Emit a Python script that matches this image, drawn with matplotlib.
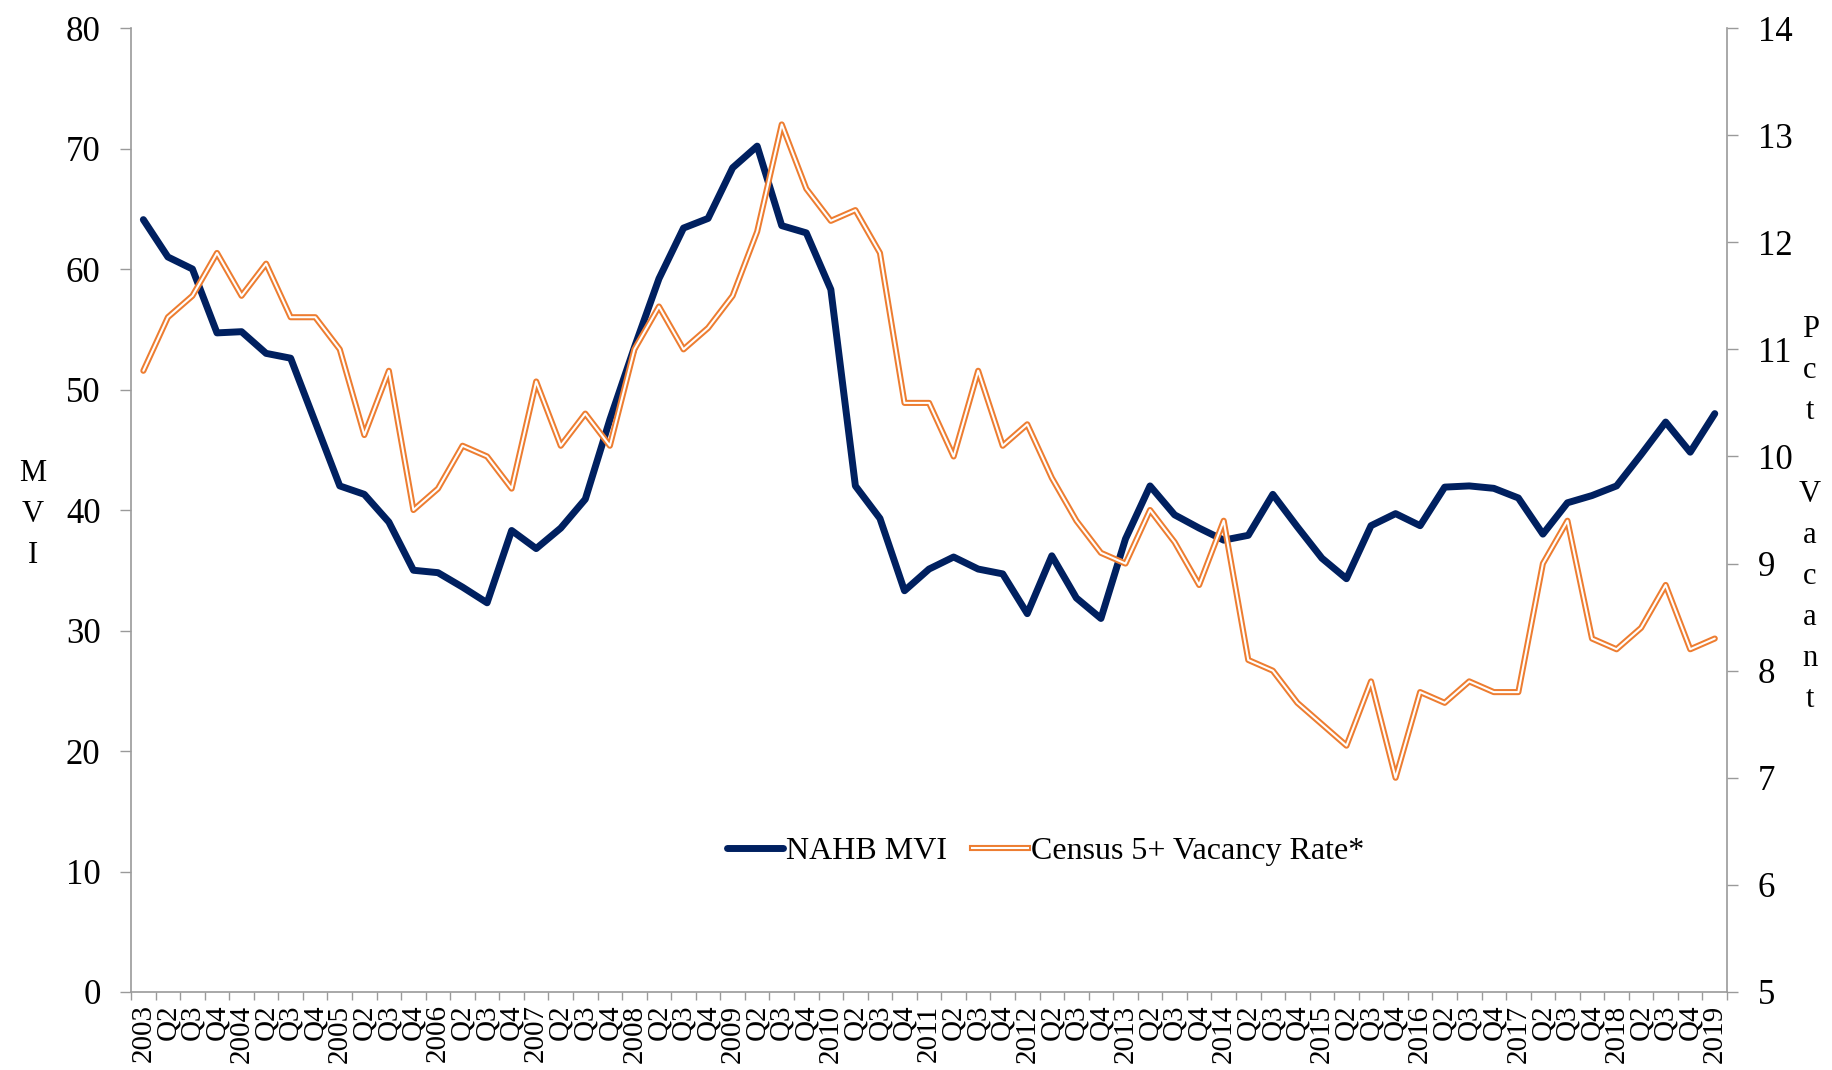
import numpy as np
import matplotlib
matplotlib.use('Agg')
import matplotlib.pyplot as plt
from matplotlib.lines import Line2D
from matplotlib.legend_handler import HandlerTuple

plt.rcParams['font.family'] = ['Liberation Serif', 'DejaVu Serif']

years = list(range(2003, 2020))
quarters = []
for y in years:
    quarters += [str(y), 'Q2', 'Q3', 'Q4']
quarters = quarters[:65]  # 2003 Q1 .. 2019 Q1

# NAHB Multifamily Vacancy Index
mvi = [64.1, 61.0, 60.0, 54.7, 54.8, 53.0, 52.6, 47.3,
       42.0, 41.3, 39.0, 35.0, 34.8, 33.6, 32.3, 38.3,
       36.8, 38.5, 40.9, 47.5, 53.5, 59.2, 63.4, 64.2,
       68.4, 70.2, 63.6, 63.0, 58.3, 42.0, 39.3, 33.3,
       35.1, 36.1, 35.1, 34.7, 31.4, 36.2, 32.7, 31.0,
       37.6, 42.0, 39.6, 38.5, 37.5, 37.9, 41.3, 38.6,
       36.0, 34.3, 38.7, 39.7, 38.7, 41.9, 42.0, 41.8,
       41.0, 38.0, 40.6, 41.2, 42.0, 44.6, 47.3, 44.8,
       48.0]

# Census 5+ units rental vacancy rate (pct)
vacancy = [10.8, 11.3, 11.5, 11.9, 11.5, 11.8, 11.3, 11.3,
           11.0, 10.2, 10.8, 9.5, 9.7, 10.1, 10.0, 9.7,
           10.7, 10.1, 10.4, 10.1, 11.0, 11.4, 11.0, 11.2,
           11.5, 12.1, 13.1, 12.5, 12.2, 12.3, 11.9, 10.5,
           10.5, 10.0, 10.8, 10.1, 10.3, 9.8, 9.4, 9.1,
           9.0, 9.5, 9.2, 8.8, 9.4, 8.1, 8.0, 7.7,
           7.5, 7.3, 7.9, 7.0, 7.8, 7.7, 7.9, 7.8,
           7.8, 9.0, 9.4, 8.3, 8.2, 8.4, 8.8, 8.2,
           8.3]

navy = '#002060'
orange = '#ED7D31'
grey = '#9A9A9A'

fig = plt.figure(figsize=(18.33, 10.70), dpi=100)
ax = fig.add_axes([0.0715, 0.0729, 0.8707, 0.9009])
ax2 = ax.twinx()

x = np.arange(len(quarters))
ax.plot(x, mvi, color=navy, lw=5, solid_capstyle='round', solid_joinstyle='round')
ax2.plot(x, vacancy, color=orange, lw=4.4, solid_joinstyle='round', solid_capstyle='round')
ax2.plot(x, vacancy, color='white', lw=1.5, solid_joinstyle='round', solid_capstyle='round')

ax.set_xlim(-0.5, len(quarters) - 0.5)
ax.set_ylim(0, 80)
ax2.set_ylim(5, 14)
ax.set_yticks(range(0, 81, 10))
ax2.set_yticks(range(5, 15))

ax.set_xticks(x)
ax.set_xticklabels(quarters, rotation=90, fontsize=21)
ax.set_xticks(np.arange(-0.5, len(quarters), 1), minor=True)
ax.tick_params(axis='x', which='major', length=0, pad=9)
ax.tick_params(axis='x', which='minor', length=6, width=1, color=grey)
ax.tick_params(axis='y', length=8, width=1, color=grey, labelsize=25, pad=14)
ax2.tick_params(axis='y', length=8, width=1, color=grey, labelsize=25, pad=14)

for a in (ax, ax2):
    a.spines['top'].set_visible(False)
    for s in ('left', 'right', 'bottom'):
        a.spines[s].set_color(grey)
        a.spines[s].set_linewidth(1.2)
ax.spines['right'].set_visible(False)
ax2.spines['left'].set_visible(False)
ax2.spines['bottom'].set_visible(False)

fig.text(0.018, 0.519, '\n'.join('MVI'), ha='center', va='center',
         fontsize=22, linespacing=1.55)
fig.text(0.9875, 0.519, '\n'.join('Pct Vacant'), ha='center', va='center',
         fontsize=22, linespacing=1.55)

h1 = Line2D([], [], color=navy, lw=5, solid_capstyle='round')
h2o = Line2D([], [], color=orange, lw=4.4)
h2w = Line2D([], [], color='white', lw=1.5)
ax2.legend([h1, (h2o, h2w)], ['NAHB MVI', 'Census 5+ Vacancy Rate*'],
           handler_map={tuple: HandlerTuple(ndivide=1, pad=0)},
           loc='center', bbox_to_anchor=(0.573, 0.146), ncol=2, frameon=False,
           fontsize=23, handlelength=1.75, handletextpad=0.08, columnspacing=0.8)

fig.savefig('out.png', dpi=100)
